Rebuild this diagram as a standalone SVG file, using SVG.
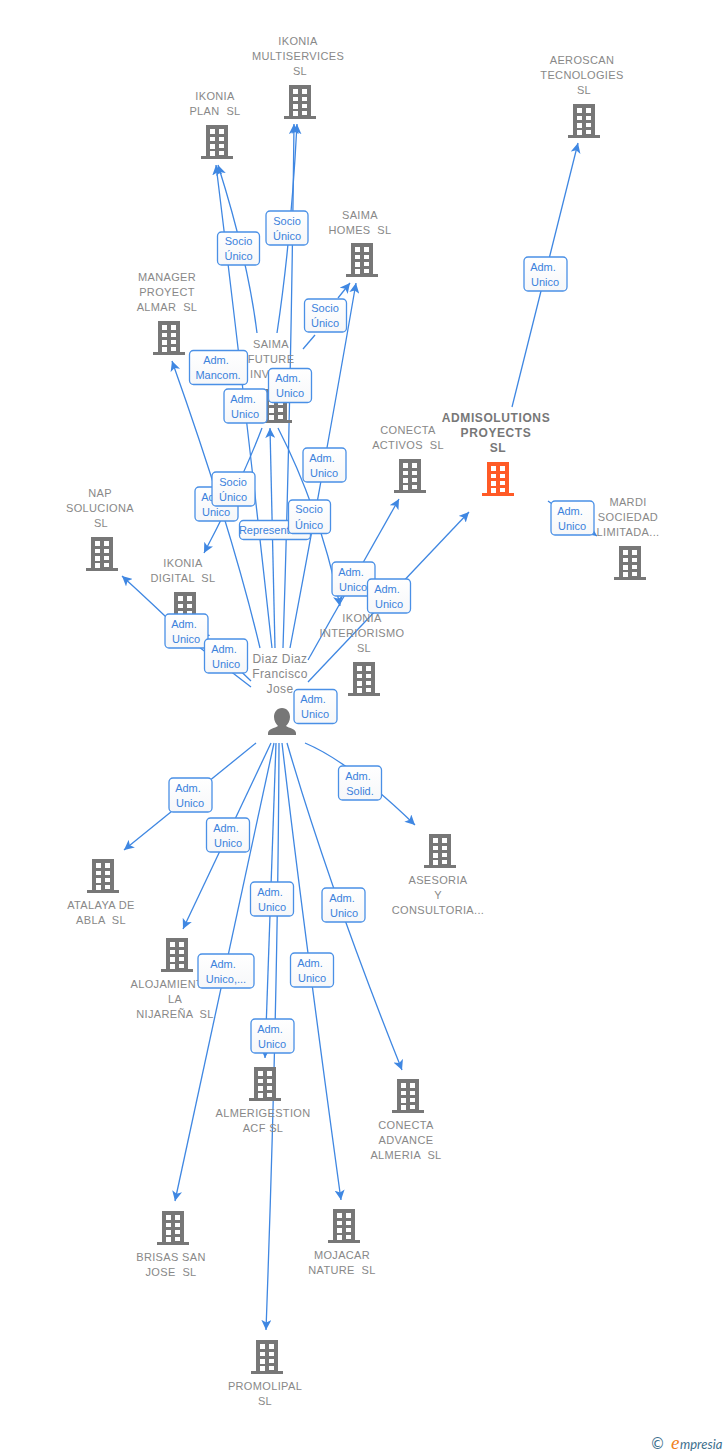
<svg xmlns="http://www.w3.org/2000/svg" width="728" height="1455" viewBox="0 0 728 1455">
<style>
text{font-family:"Liberation Sans",Arial,sans-serif;white-space:pre}
.n{font-size:11px;fill:#888;text-anchor:middle;letter-spacing:.35px}
.p{font-size:12px;fill:#888;text-anchor:middle;letter-spacing:.4px}
.b{font-size:12px;fill:#777;text-anchor:middle;font-weight:bold;letter-spacing:.6px}
.l{font-size:11px;fill:#3b82dc;text-anchor:middle}
.e{fill:none;stroke:#3f87e2;stroke-width:1.3}
.bx{fill:url(#g);stroke:#4a90e6;stroke-width:1.3}
</style>
<defs>
<linearGradient id="g" x1="0" y1="0" x2="0" y2="1"><stop offset="0" stop-color="#fff"/><stop offset="1" stop-color="#f6f7f9"/></linearGradient>
<marker id="a" markerUnits="userSpaceOnUse" markerWidth="12" markerHeight="10" refX="10" refY="5" orient="auto"><path d="M0 0L10 5L0 10L2.5 5Z" fill="#3f87e2"/></marker>
<symbol id="bd" overflow="visible"><path fill-rule="evenodd" d="M5 0H27V31H32V34H0V31H5ZM9 4V9H14V4ZM18 4V9H23V4ZM9 12V16H14V12ZM18 12V16H23V12ZM9 19V24H14V19ZM18 19V23H23V19ZM9 26V31H14V26ZM18 26V30H23V26Z"/></symbol>
</defs>
<g id="connectors" class="e">
<path class="e" marker-end="url(#a)" d="M512 407L578 143"/>
<path class="e" marker-end="url(#a)" d="M277 333Q291 240 297 124"/>
<path class="e" marker-end="url(#a)" d="M283 648Q291 400 294 124"/>
<path class="e" marker-end="url(#a)" d="M257 333Q248 260 218 165"/>
<path class="e" marker-end="url(#a)" d="M272 648Q245 400 216 165"/>
<path class="e" d="M303 349L315 335"/>
<path class="e" marker-end="url(#a)" d="M338 298L350 283"/>
<path class="e" marker-end="url(#a)" d="M290 648Q322 480 356 283"/>
<path class="e" marker-end="url(#a)" d="M260 648Q232 530 172 361"/>
<path class="e" marker-end="url(#a)" d="M262 428Q240 485 204 553"/>
<path class="e" marker-end="url(#a)" d="M275 648L270 428"/>
<path class="e" marker-end="url(#a)" d="M278 428Q320 510 340 606"/>
<path class="e" marker-end="url(#a)" d="M308 660L399 499"/>
<path class="e" marker-end="url(#a)" d="M308 682L469 512"/>
<path class="e" marker-end="url(#a)" d="M548 501L597 536"/>
<path class="e" marker-end="url(#a)" d="M251 687L190 640Q155 606 122 576"/>
<path class="e" marker-end="url(#a)" d="M251 681L200 632"/>
<path class="e" marker-end="url(#a)" d="M256 743L124 850"/>
<path class="e" marker-end="url(#a)" d="M271 743L183 929"/>
<path class="e" marker-end="url(#a)" d="M305 743Q350 762 415 825"/>
<path class="e" marker-end="url(#a)" d="M276 743L265 1058"/>
<path class="e" marker-end="url(#a)" d="M279 743Q278 1000 266 1330"/>
<path class="e" marker-end="url(#a)" d="M274 743L175 1201"/>
<path class="e" marker-end="url(#a)" d="M282 743Q300 900 341 1200"/>
<path class="e" marker-end="url(#a)" d="M287 743Q330 890 402 1070"/>
</g>
<g id="n1" fill="#777"><text class="n"><tspan x="298" y="45">IKONIA</tspan><tspan x="298" y="60">MULTISERVICES</tspan><tspan x="300" y="75">SL</tspan></text><use href="#bd" x="284" y="85"/></g>
<g id="n2" fill="#777"><text class="n"><tspan x="582" y="64">AEROSCAN</tspan><tspan x="582" y="79">TECNOLOGIES</tspan><tspan x="584" y="94">SL</tspan></text><use href="#bd" x="568" y="104"/></g>
<g id="n3" fill="#777"><text class="n"><tspan x="215" y="100">IKONIA</tspan><tspan x="215" y="115">PLAN  SL</tspan></text><use href="#bd" x="201" y="125"/></g>
<g id="n4" fill="#777"><text class="n"><tspan x="360" y="219">SAIMA</tspan><tspan x="360" y="234">HOMES  SL</tspan></text><use href="#bd" x="346" y="243"/></g>
<g id="n5" fill="#777"><text class="n"><tspan x="167" y="281">MANAGER</tspan><tspan x="167" y="296">PROYECT</tspan><tspan x="167" y="311">ALMAR  SL</tspan></text><use href="#bd" x="153" y="321"/></g>
<g id="n6" fill="#777"><text class="n"><tspan x="271" y="348">SAIMA</tspan><tspan x="271" y="363">FUTURE</tspan><tspan x="271" y="378">INVEST</tspan></text><use href="#bd" x="260" y="389"/></g>
<g id="n7" fill="#777"><text class="n"><tspan x="408" y="434">CONECTA</tspan><tspan x="408" y="449">ACTIVOS  SL</tspan></text><use href="#bd" x="394" y="459"/></g>
<g id="n8" fill="#ff5a26"><text class="b"><tspan x="496" y="422">ADMISOLUTIONS</tspan><tspan x="496" y="437">PROYECTS</tspan><tspan x="498" y="452">SL</tspan></text><use href="#bd" x="482" y="462"/></g>
<g id="n9" fill="#777"><text class="n"><tspan x="628" y="506">MARDI</tspan><tspan x="628" y="521">SOCIEDAD</tspan><tspan x="628" y="536">LIMITADA...</tspan></text><use href="#bd" x="614" y="546"/></g>
<g id="n10" fill="#777"><text class="n"><tspan x="100" y="497">NAP</tspan><tspan x="100" y="512">SOLUCIONA</tspan><tspan x="101" y="527">SL</tspan></text><use href="#bd" x="86" y="537"/></g>
<g id="n11" fill="#777"><text class="n"><tspan x="183" y="567">IKONIA</tspan><tspan x="183" y="582">DIGITAL  SL</tspan></text><use href="#bd" x="169" y="592"/></g>
<g id="n12" fill="#777"><text class="n"><tspan x="362" y="622">IKONIA</tspan><tspan x="362" y="637">INTERIORISMO</tspan><tspan x="364" y="652">SL</tspan></text><use href="#bd" x="348" y="662"/></g>
<g id="n13" fill="#777"><text class="n"><tspan x="101" y="909">ATALAYA DE</tspan><tspan x="101" y="924">ABLA  SL</tspan></text><use href="#bd" x="87" y="859"/></g>
<g id="n14" fill="#777"><text class="n"><tspan x="438" y="884">ASESORIA</tspan><tspan x="438" y="899">Y</tspan><tspan x="438" y="914">CONSULTORIA...</tspan></text><use href="#bd" x="424" y="834"/></g>
<g id="n15" fill="#777"><text class="n"><tspan x="175" y="988">ALOJAMIENTOS</tspan><tspan x="175" y="1003">LA</tspan><tspan x="175" y="1018">NIJAREÑA  SL</tspan></text><use href="#bd" x="161" y="938"/></g>
<g id="n16" fill="#777"><text class="n"><tspan x="263" y="1117">ALMERIGESTION</tspan><tspan x="263" y="1132">ACF SL</tspan></text><use href="#bd" x="249" y="1067"/></g>
<g id="n17" fill="#777"><text class="n"><tspan x="406" y="1129">CONECTA</tspan><tspan x="406" y="1144">ADVANCE</tspan><tspan x="406" y="1159">ALMERIA  SL</tspan></text><use href="#bd" x="392" y="1079"/></g>
<g id="n18" fill="#777"><text class="n"><tspan x="171" y="1261">BRISAS SAN</tspan><tspan x="171" y="1276">JOSE  SL</tspan></text><use href="#bd" x="157" y="1211"/></g>
<g id="n19" fill="#777"><text class="n"><tspan x="342" y="1259">MOJACAR</tspan><tspan x="342" y="1274">NATURE  SL</tspan></text><use href="#bd" x="328" y="1209"/></g>
<g id="n20" fill="#777"><text class="n"><tspan x="265" y="1390">PROMOLIPAL</tspan><tspan x="265" y="1405">SL</tspan></text><use href="#bd" x="251" y="1340"/></g>
<g id="person" fill="#777"><text class="p"><tspan x="280" y="663">Diaz Diaz</tspan><tspan x="280" y="678">Francisco</tspan><tspan x="280" y="693">Jose</tspan></text><path d="M282 708c5 0 8 4 8 9 0 4-2 7-4 9 3 2 10 3 10 7v2h-28v-2c0-4 7-5 10-7-2-2-4-5-4-9 0-5 3-9 8-9z"/></g>
<g id="labels">
<g><rect class="bx" x="524" y="257" width="43" height="34" rx="4"/><text class="l"><tspan x="543" y="271">Adm.</tspan><tspan x="545" y="286">Unico</tspan></text></g>
<g><rect class="bx" x="266" y="211" width="42" height="34" rx="4"/><text class="l"><tspan x="287" y="225">Socio</tspan><tspan x="287" y="240">Único</tspan></text></g>
<g><rect class="bx" x="217.500" y="232" width="42" height="33" rx="4"/><text class="l"><tspan x="238.500" y="245">Socio</tspan><tspan x="238.500" y="260">Único</tspan></text></g>
<g><rect class="bx" x="304.500" y="299" width="42" height="33" rx="4"/><text class="l"><tspan x="325" y="312">Socio</tspan><tspan x="325" y="327">Único</tspan></text></g>
<g><rect class="bx" x="189.500" y="350.500" width="58" height="34" rx="4"/><text class="l"><tspan x="216" y="364">Adm.</tspan><tspan x="218" y="379">Mancom.</tspan></text></g>
<g><rect class="bx" x="268.500" y="368.500" width="43" height="34" rx="4"/><text class="l"><tspan x="288" y="382">Adm.</tspan><tspan x="290" y="397">Unico</tspan></text></g>
<g><rect class="bx" x="224" y="389" width="43" height="34" rx="4"/><text class="l"><tspan x="243" y="403">Adm.</tspan><tspan x="245" y="418">Unico</tspan></text></g>
<g><rect class="bx" x="303" y="448" width="43" height="34" rx="4"/><text class="l"><tspan x="322" y="462">Adm.</tspan><tspan x="324" y="477">Unico</tspan></text></g>
<g><rect class="bx" x="195" y="487" width="43" height="34" rx="4"/><text class="l"><tspan x="214" y="501">Adm.</tspan><tspan x="216" y="516">Unico</tspan></text></g>
<g><rect class="bx" x="212" y="472" width="43" height="34" rx="4"/><text class="l"><tspan x="233" y="486">Socio</tspan><tspan x="233" y="501">Único</tspan></text></g>
<g><rect class="bx" x="239.500" y="520.500" width="71" height="19" rx="4"/><text class="l"><tspan x="275" y="534">Representante</tspan></text></g>
<g><rect class="bx" x="288.500" y="500" width="42" height="33.500" rx="4"/><text class="l"><tspan x="309" y="513">Socio</tspan><tspan x="309" y="529">Único</tspan></text></g>
<g><rect class="bx" x="332" y="562" width="43" height="34" rx="4"/><text class="l"><tspan x="351" y="576">Adm.</tspan><tspan x="353" y="591">Unico</tspan></text></g>
<g><rect class="bx" x="367.500" y="579" width="43" height="34" rx="4"/><text class="l"><tspan x="387" y="593">Adm.</tspan><tspan x="389" y="608">Unico</tspan></text></g>
<g><rect class="bx" x="551" y="501" width="43" height="34" rx="4"/><text class="l"><tspan x="570" y="515">Adm.</tspan><tspan x="572" y="530">Unico</tspan></text></g>
<g><rect class="bx" x="165" y="614" width="43" height="34" rx="4"/><text class="l"><tspan x="184" y="628">Adm.</tspan><tspan x="186" y="643">Unico</tspan></text></g>
<g><rect class="bx" x="204.500" y="639" width="43" height="34" rx="4"/><text class="l"><tspan x="224" y="653">Adm.</tspan><tspan x="226" y="668">Unico</tspan></text></g>
<g><rect class="bx" x="294" y="689.500" width="43" height="34" rx="4"/><text class="l"><tspan x="313" y="703">Adm.</tspan><tspan x="315" y="718">Unico</tspan></text></g>
<g><rect class="bx" x="169" y="778" width="43" height="34" rx="4"/><text class="l"><tspan x="188" y="792">Adm.</tspan><tspan x="190" y="807">Unico</tspan></text></g>
<g><rect class="bx" x="338.500" y="766" width="43" height="34" rx="4"/><text class="l"><tspan x="358" y="780">Adm.</tspan><tspan x="360" y="795">Solid.</tspan></text></g>
<g><rect class="bx" x="206.500" y="818" width="43" height="34" rx="4"/><text class="l"><tspan x="226" y="832">Adm.</tspan><tspan x="228" y="847">Unico</tspan></text></g>
<g><rect class="bx" x="250.500" y="882" width="43" height="34" rx="4"/><text class="l"><tspan x="270" y="896">Adm.</tspan><tspan x="272" y="911">Unico</tspan></text></g>
<g><rect class="bx" x="322" y="888" width="43" height="34" rx="4"/><text class="l"><tspan x="342" y="902">Adm.</tspan><tspan x="344" y="917">Unico</tspan></text></g>
<g><rect class="bx" x="198" y="954" width="56" height="34" rx="4"/><text class="l"><tspan x="223" y="968">Adm.</tspan><tspan x="226" y="983">Unico,...</tspan></text></g>
<g><rect class="bx" x="290.500" y="953" width="43" height="34" rx="4"/><text class="l"><tspan x="310" y="967">Adm.</tspan><tspan x="312" y="982">Unico</tspan></text></g>
<g><rect class="bx" x="251" y="1019" width="43" height="34" rx="4"/><text class="l"><tspan x="270" y="1033">Adm.</tspan><tspan x="272" y="1048">Unico</tspan></text></g>
</g>
<g id="logo"><text x="650" y="1449" font-size="15" fill="#3c6e8c" style="font-family:'DejaVu Sans',sans-serif">©</text><text x="671" y="1449" font-size="19" fill="#f08020" font-style="italic" style="font-family:'Liberation Serif',serif">e</text><text x="680" y="1449" font-size="13" fill="#3c6e8c" font-style="italic" style="font-family:'Lato',sans-serif">mpresia</text></g>
</svg>
